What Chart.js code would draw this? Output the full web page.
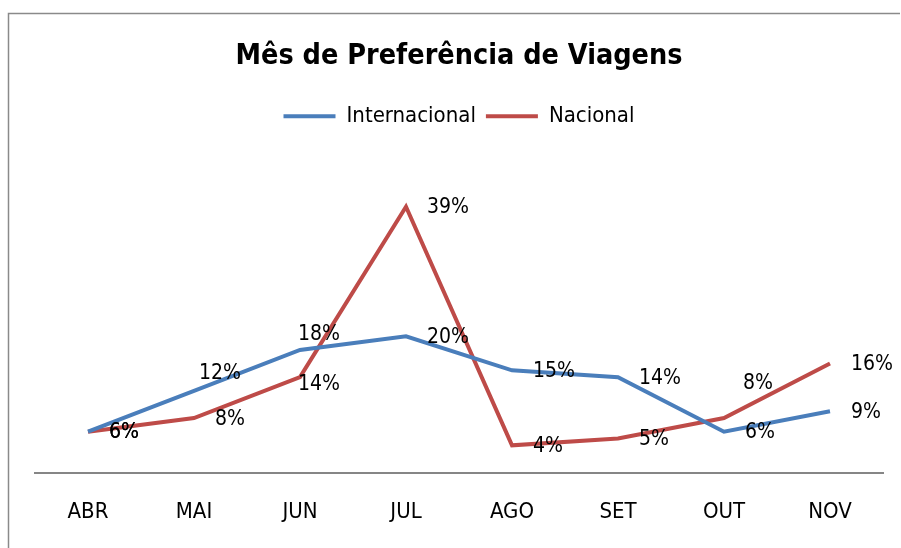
<!DOCTYPE html>
<html>
<head>
<meta charset="utf-8">
<title>Mês de Preferência de Viagens</title>
<script src="https://cdn.jsdelivr.net/npm/chart.js@4/dist/chart.umd.min.js"></script>
<style>
  html, body { margin: 0; padding: 0; background: #fff; }
  #chart { display: block; }
</style>
</head>
<body>
<canvas id="chart" width="901" height="548"></canvas>
<script>
var meses = ['ABR', 'MAI', 'JUN', 'JUL', 'AGO', 'SET', 'OUT', 'NOV'];
var internacional = [6, 12, 18, 20, 15, 14, 6, 9];
var nacional = [6, 8, 14, 39, 4, 5, 8, 16];

var FONT = "'DejaVu Sans Condensed', 'Liberation Sans', sans-serif";

// rótulos de dados à direita do ponto, alguns deslocados à mão como no original
var rotulos = {
    id: 'rotulos',
    afterDatasetsDraw(chart) {
        var ctx = chart.ctx;
        ctx.save();
        ctx.font = '21px ' + FONT;
        ctx.fillStyle = '#000';
        ctx.textAlign = 'left';
        ctx.textBaseline = 'middle';
        chart.data.datasets.forEach((ds, i) => {
            var meta = chart.getDatasetMeta(i);
            meta.data.forEach((pt, j) => {
                var n = (ds.nudge && ds.nudge[j]) || [0, 0];
                ctx.fillText(ds.data[j] + '%', pt.x + 21 + n[0], pt.y + 1 + n[1]);
            });
        });
        ctx.restore();
    }
};

var moldura = {
    id: 'moldura',
    beforeDraw(chart) {
        var ctx = chart.ctx;
        ctx.save();
        ctx.strokeStyle = '#8a8a8a';
        ctx.lineWidth = 1.5;
        ctx.beginPath();
        ctx.moveTo(8.5, 560);
        ctx.lineTo(8.5, 13.5);
        ctx.lineTo(900, 13.5);
        ctx.stroke();
        ctx.restore();
    }
};

new Chart(document.getElementById('chart').getContext('2d'), {
    type: 'line',
    data: {
        labels: meses,
        datasets: [{
            label: 'Internacional',
            data: internacional,
            borderColor: '#4a7ebb',
            backgroundColor: '#4a7ebb',
            borderWidth: 4,
            pointRadius: 0,
            tension: 0,
            nudge: [null, [-16, -18], [-23, -16]]
        }, {
            label: 'Nacional',
            data: nacional,
            borderColor: '#be4b48',
            backgroundColor: '#be4b48',
            borderWidth: 4,
            pointRadius: 0,
            tension: 0,
            nudge: [null, null, [-23, 6], null, null, null, [-2, -36]]
        }]
    },
    options: {
        responsive: false,
        animation: false,
        layout: { padding: { left: 35, right: 18, top: 0, bottom: -3 } },
        plugins: {
            title: {
                display: true,
                text: 'Mês de Preferência de Viagens',
                color: '#000',
                font: { family: FONT, size: 28.5, weight: 'bold' },
                padding: { top: 39, bottom: 22 }
            },
            legend: {
                labels: {
                    color: '#000',
                    font: { family: FONT, size: 22 },
                    usePointStyle: true,
                    pointStyle: 'line',
                    pointStyleWidth: 52,
                    padding: 10
                }
            },
            tooltip: { enabled: false }
        },
        scales: {
            x: {
                offset: true,
                grid: { display: false, drawTicks: false },
                border: { display: true, color: '#868686', width: 2 },
                ticks: { color: '#000', font: { family: FONT, size: 22 }, padding: 26 }
            },
            y: {
                display: false,
                min: 0,
                max: 49.2
            }
        }
    },
    plugins: [moldura, rotulos]
});
</script>
</body>
</html>
